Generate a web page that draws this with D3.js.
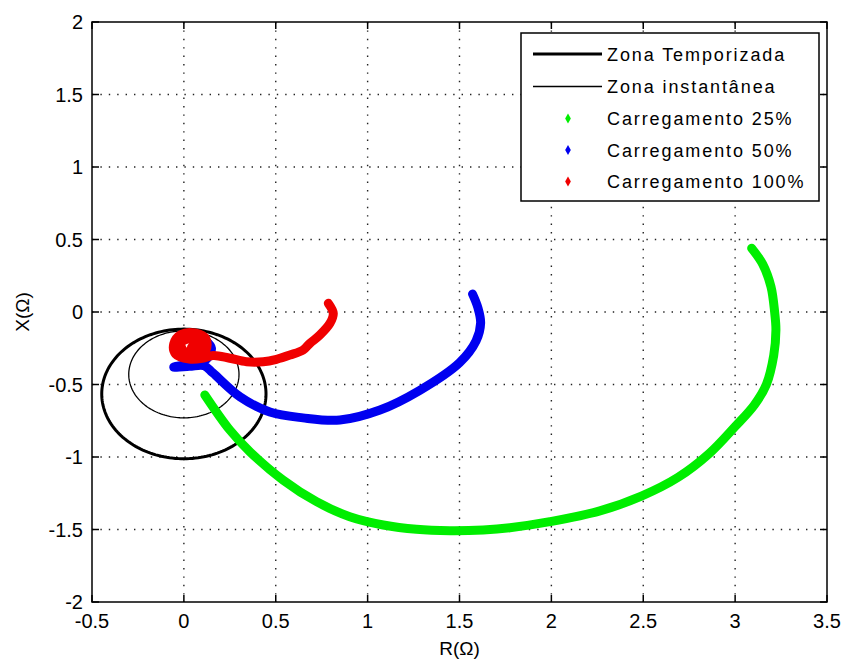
<!DOCTYPE html>
<html>
<head>
<meta charset="utf-8">
<script src="https://cdn.jsdelivr.net/npm/d3@7"></script>
<style>
  html, body { margin: 0; padding: 0; background: #fff; }
  svg { display: block; }
  text { font-family: "Liberation Sans", Arial, sans-serif; fill: #000; }
</style>
</head>
<body>
<svg id="chart" width="843" height="667"></svg>
<script>
// Axis ticks
const xTicks = [-0.5, 0, 0.5, 1, 1.5, 2, 2.5, 3, 3.5];
const yTicks = [-2, -1.5, -1, -0.5, 0, 0.5, 1, 1.5, 2];

// Protection zones (mho circles): [centerR, centerX, radius]
const zoneTemporizada = [0, -0.565, 0.447];
const zoneInstantanea = [0, -0.43, 0.3];

// Impedance trajectories (R, X) in ohms
const load25 = [
  [3.09, 0.44], [3.15, 0.33], [3.195, 0.175], [3.215, 0.0], [3.222, -0.124],
  [3.21, -0.3], [3.17, -0.5], [3.105, -0.64], [3.0, -0.79], [2.86, -0.975],
  [2.69, -1.14], [2.49, -1.27], [2.264, -1.372], [1.992, -1.446], [1.774, -1.488],
  [1.629, -1.503], [1.448, -1.508], [1.266, -1.499], [1.085, -1.469], [0.903, -1.412],
  [0.722, -1.308], [0.54, -1.159], [0.359, -0.963], [0.25, -0.814], [0.114, -0.572]
];
const load50 = [
  [1.571, 0.124], [1.6, 0.03], [1.615, -0.076], [1.59, -0.2], [1.5, -0.35],
  [1.284, -0.54], [1.067, -0.676], [0.849, -0.745], [0.648, -0.73], [0.468, -0.69],
  [0.305, -0.584], [0.158, -0.42], [0.11, -0.37], [0.03, -0.375], [-0.055, -0.38],
  [0.02, -0.36], [0.12, -0.33], [0.15, -0.25], [0.12, -0.2]
];
const load100 = [
  [0.786, 0.06], [0.813, -0.009], [0.795, -0.078], [0.74, -0.159], [0.686, -0.216],
  [0.649, -0.262], [0.577, -0.297], [0.504, -0.326], [0.432, -0.343], [0.341, -0.343],
  [0.25, -0.319], [0.16, -0.3], [0.1, -0.32],
  [0.03, -0.325], [-0.045, -0.29], [-0.055, -0.22], [-0.015, -0.155], [0.06, -0.145],
  [0.12, -0.185], [0.12, -0.26], [0.06, -0.29], [0.0, -0.27], [-0.015, -0.21],
  [0.04, -0.185], [0.08, -0.22], [0.04, -0.245],
  [0.095, -0.2], [0.09, -0.28], [0.02, -0.295], [-0.03, -0.25], [-0.025, -0.19],
  [0.03, -0.165], [0.09, -0.21], [0.05, -0.23]
];

const legendLabels = ["Zona Temporizada", "Zona instantânea", "Carregamento 25%", "Carregamento 50%", "Carregamento 100%"];
const seriesColors = ["#00ee00", "#0000f0", "#f00000"];

const svg = d3.select("#chart");
const pLeft = 92, pRight = 827, pTop = 22, pBottom = 602;

const x = d3.scaleLinear().domain([-0.5, 3.5]).range([pLeft, pRight]);
const y = d3.scaleLinear().domain([-2, 2]).range([pBottom, pTop]);

// Dotted grid
const grid = svg.append("g").attr("stroke", "#222").attr("stroke-width", 1.4).attr("stroke-dasharray", "1.4,7");
grid.selectAll("line.v").data(xTicks.slice(1, -1)).join("line")
  .attr("x1", d => x(d)).attr("x2", d => x(d)).attr("y1", pTop).attr("y2", pBottom);
grid.selectAll("line.h").data(yTicks.slice(1, -1)).join("line")
  .attr("x1", pLeft).attr("x2", pRight).attr("y1", d => y(d)).attr("y2", d => y(d));

// Zone circles
function circlePts(c) {
  return d3.range(0, 361, 2).map(a => [c[0] + c[2] * Math.cos(a * Math.PI / 180), c[1] + c[2] * Math.sin(a * Math.PI / 180)]);
}
const line = d3.line().x(d => x(d[0])).y(d => y(d[1]));
svg.append("path").attr("d", line(circlePts(zoneTemporizada))).attr("fill", "none").attr("stroke", "#000").attr("stroke-width", 3);
svg.append("path").attr("d", line(circlePts(zoneInstantanea))).attr("fill", "none").attr("stroke", "#000").attr("stroke-width", 1.3);

// Trajectories
const smooth = d3.line().x(d => x(d[0])).y(d => y(d[1])).curve(d3.curveCatmullRom);
[load25, load50, load100].forEach((s, i) => {
  svg.append("path").attr("d", smooth(s)).attr("fill", "none")
    .attr("stroke", seriesColors[i]).attr("stroke-width", 9)
    .attr("stroke-linecap", "round").attr("stroke-linejoin", "round");
});

// Axes box with inward ticks
const axes = svg.append("g");
axes.append("rect").attr("x", pLeft).attr("y", pTop).attr("width", pRight - pLeft).attr("height", pBottom - pTop)
  .attr("fill", "none").attr("stroke", "#000").attr("stroke-width", 1.5);
const tl = 7;
axes.selectAll("line.xb").data(xTicks).join("line")
  .attr("x1", d => x(d)).attr("x2", d => x(d)).attr("y1", pBottom).attr("y2", pBottom - tl).attr("stroke", "#000").attr("stroke-width", 1.5);
axes.selectAll("line.xt").data(xTicks).join("line")
  .attr("x1", d => x(d)).attr("x2", d => x(d)).attr("y1", pTop).attr("y2", pTop + tl).attr("stroke", "#000").attr("stroke-width", 1.5);
axes.selectAll("line.yl").data(yTicks).join("line")
  .attr("x1", pLeft).attr("x2", pLeft + tl).attr("y1", d => y(d)).attr("y2", d => y(d)).attr("stroke", "#000").attr("stroke-width", 1.5);
axes.selectAll("line.yr").data(yTicks).join("line")
  .attr("x1", pRight).attr("x2", pRight - tl).attr("y1", d => y(d)).attr("y2", d => y(d)).attr("stroke", "#000").attr("stroke-width", 1.5);

// Tick labels
axes.selectAll("text.xl").data(xTicks).join("text")
  .attr("x", d => x(d)).attr("y", pBottom + 26).attr("text-anchor", "middle")
  .style("font-size", "20px").text(d => String(d));
axes.selectAll("text.yl").data(yTicks).join("text")
  .attr("x", pLeft - 9).attr("y", d => y(d) + 7).attr("text-anchor", "end")
  .style("font-size", "20px").text(d => String(d));

// Axis titles
svg.append("text").attr("x", (pLeft + pRight) / 2).attr("y", 655).attr("text-anchor", "middle")
  .style("font-size", "19px").text("R(Ω)");
svg.append("text").attr("transform", `translate(29,${y(0)}) rotate(-90)`).attr("text-anchor", "middle")
  .style("font-size", "19px").text("X(Ω)");

// Legend
const lg = svg.append("g");
lg.append("rect").attr("x", 521).attr("y", 33).attr("width", 298).attr("height", 168)
  .attr("fill", "#fff").attr("stroke", "#000").attr("stroke-width", 1.5);
const rowY = [54, 86.5, 118.5, 150, 181.5];
lg.append("line").attr("x1", 533).attr("x2", 602).attr("y1", rowY[0]).attr("y2", rowY[0]).attr("stroke", "#000").attr("stroke-width", 3);
lg.append("line").attr("x1", 533).attr("x2", 602).attr("y1", rowY[1]).attr("y2", rowY[1]).attr("stroke", "#000").attr("stroke-width", 1.3);
seriesColors.forEach((c, i) => {
  lg.append("path").attr("d", d3.symbol(d3.symbolDiamond, 28)())
    .attr("transform", `translate(568,${rowY[i + 2]})`).attr("fill", c);
});
lg.selectAll("text").data(legendLabels).join("text")
  .attr("x", 607).attr("y", (d, i) => rowY[i] + 6.5)
  .style("font-size", "18px").style("letter-spacing", "1.9px").text(d => d);
</script>
</body>
</html>
